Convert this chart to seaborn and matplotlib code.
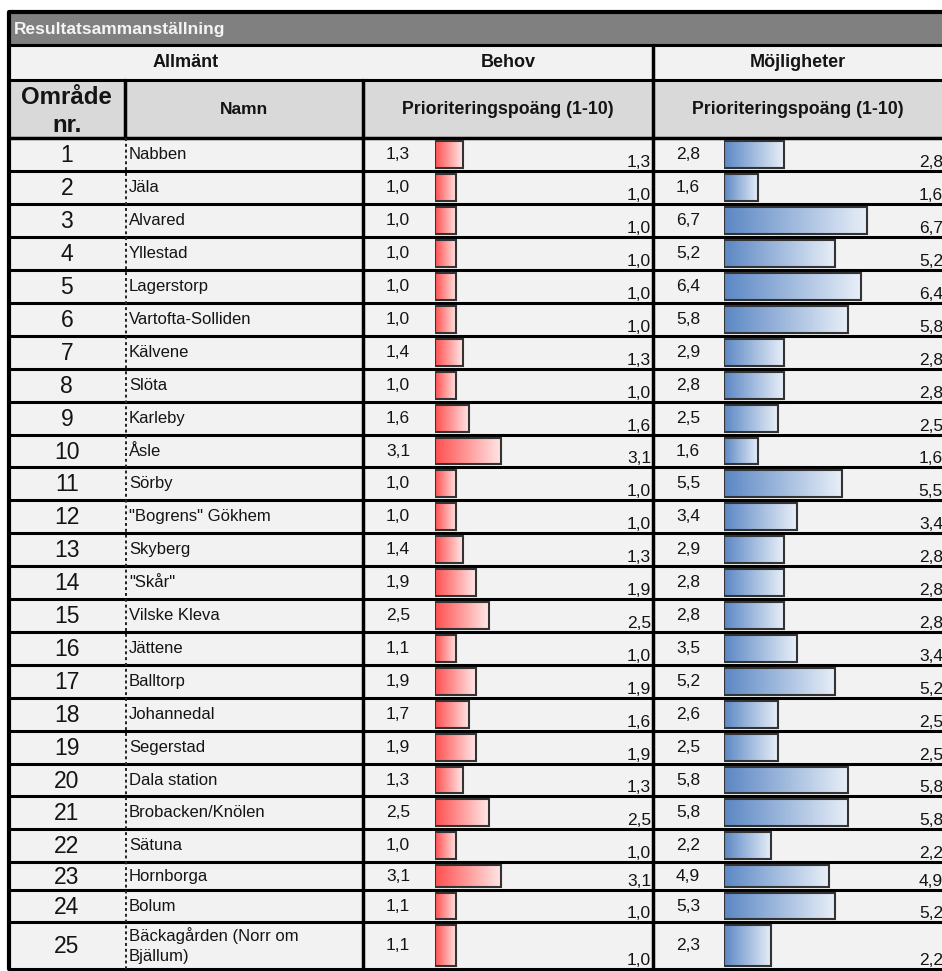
import matplotlib
matplotlib.use("Agg")
import matplotlib.pyplot as plt
import numpy as np
import seaborn as sns
from matplotlib.colors import LinearSegmentedColormap
from matplotlib.patches import Rectangle

# --- data -------------------------------------------------------------
area_nr = list(range(1, 26))
names = [
    "Nabben", "Jäla", "Alvared", "Yllestad", "Lagerstorp", "Vartofta-Solliden",
    "Kälvene", "Slöta", "Karleby", "Åsle", "Sörby", "\"Bogrens\" Gökhem",
    "Skyberg", "\"Skår\"", "Vilske Kleva", "Jättene", "Balltorp", "Johannedal",
    "Segerstad", "Dala station", "Brobacken/Knölen", "Sätuna", "Hornborga",
    "Bolum", "Bäckagården (Norr om\nBjällum)",
]
behov_score = [1.3, 1.0, 1.0, 1.0, 1.0, 1.0, 1.4, 1.0, 1.6, 3.1, 1.0, 1.0, 1.4,
               1.9, 2.5, 1.1, 1.9, 1.7, 1.9, 1.3, 2.5, 1.0, 3.1, 1.1, 1.1]
behov_bar = [1.3, 1.0, 1.0, 1.0, 1.0, 1.0, 1.3, 1.0, 1.6, 3.1, 1.0, 1.0, 1.3,
             1.9, 2.5, 1.0, 1.9, 1.6, 1.9, 1.3, 2.5, 1.0, 3.1, 1.0, 1.0]
mojl_score = [2.8, 1.6, 6.7, 5.2, 6.4, 5.8, 2.9, 2.8, 2.5, 1.6, 5.5, 3.4, 2.9,
              2.8, 2.8, 3.5, 5.2, 2.6, 2.5, 5.8, 5.8, 2.2, 4.9, 5.3, 2.3]
mojl_bar = [2.8, 1.6, 6.7, 5.2, 6.4, 5.8, 2.8, 2.8, 2.5, 1.6, 5.5, 3.4, 2.8,
            2.8, 2.8, 3.4, 5.2, 2.5, 2.5, 5.8, 5.8, 2.2, 4.9, 5.2, 2.2]

title = "Resultatsammanställning"
group_labels = ["Allmänt", "Behov", "Möjligheter"]
score_label = "Prioriteringspoäng (1-10)"


def fmt(v):
    return f"{v:.1f}".replace(".", ",")


# --- layout (pixels) ---------------------------------------------------
W, H = 942, 971
x_left, x_name, x_behov, x_mojl, x_right = 9, 124.5, 363, 653, 942
y_top, y_title, y_group, y_head = 12, 45, 80.5, 138.5
row_h = np.array([32.9] * 22 + [28, 31.5, 47])
edges = y_head + np.concatenate([[0], np.cumsum(row_h)])
tops, bottoms = edges[:-1], edges[1:]
centers = (tops + bottoms) / 2

sns.set_theme(style="white")
plt.rcParams["font.family"] = ["Liberation Sans", "DejaVu Sans"]
txt = "#141414"

fig = plt.figure(figsize=(W / 100, H / 100), dpi=100)
ax = fig.add_axes([0, 0, 1, 1])
ax.set_xlim(0, W)
ax.set_ylim(H, 0)
ax.axis("off")

# cell backgrounds
ax.add_patch(Rectangle((x_left, y_top), x_right - x_left, y_title - y_top, color="#808080", zorder=0))
ax.add_patch(Rectangle((x_left, y_title), x_right - x_left, y_group - y_title, color="#f2f2f2", zorder=0))
ax.add_patch(Rectangle((x_left, y_group), x_right - x_left, y_head - y_group, color="#d9d9d9", zorder=0))
ax.add_patch(Rectangle((x_left, y_head), x_right - x_left, edges[-1] - y_head, color="#f2f2f2", zorder=0))

# grid lines
for y, lw in [(y_top, 3), (y_title, 2.2), (y_group, 2.2), (y_head, 2.5)]:
    ax.plot([x_left, x_right], [y, y], color="black", lw=lw, solid_capstyle="butt", zorder=3)
for y in edges[1:]:
    ax.plot([x_left, x_right], [y, y], color="black", lw=2.2, solid_capstyle="butt", zorder=3)
ax.plot([x_left, x_left], [y_top, edges[-1]], color="black", lw=3, zorder=3)
ax.plot([x_mojl, x_mojl], [y_title, edges[-1]], color="black", lw=2.5, zorder=3)
ax.plot([x_behov, x_behov], [y_group, edges[-1]], color="black", lw=2.5, zorder=3)
ax.plot([x_name, x_name], [y_group, y_head], color="black", lw=2.5, zorder=3)
ax.plot([x_name + 1, x_name + 1], [y_head, edges[-1]], color="#222222", lw=1.4,
        linestyle=(0, (1.5, 1.5)), zorder=3)

# header texts
ax.text(14, (y_top + y_title) / 2 + 1, title, color="#f4f4f4", fontsize=12.5,
        fontweight="bold", ha="left", va="center")
ax.text((x_left + x_behov) / 2, (y_title + y_group) / 2, group_labels[0], fontsize=13,
        fontweight="bold", ha="center", va="center", color=txt)
ax.text((x_behov + x_mojl) / 2, (y_title + y_group) / 2, group_labels[1], fontsize=13,
        fontweight="bold", ha="center", va="center", color=txt)
ax.text((x_mojl + x_right) / 2, (y_title + y_group) / 2, group_labels[2], fontsize=13,
        fontweight="bold", ha="center", va="center", color=txt)
ax.text((x_left + x_name) / 2, 97, "Område", fontsize=17.3, fontweight="bold",
        ha="center", va="center", color=txt)
ax.text((x_left + x_name) / 2, 126, "nr.", fontsize=17.3, fontweight="bold",
        ha="center", va="center", color=txt)
ax.text((x_name + x_behov) / 2, 110, "Namn", fontsize=12.5, fontweight="bold",
        ha="center", va="center", color=txt)
ax.text((x_behov + x_mojl) / 2, 110, score_label, fontsize=12.8, fontweight="bold",
        ha="center", va="center", color=txt)
ax.text((x_mojl + x_right) / 2, 110, score_label, fontsize=12.8, fontweight="bold",
        ha="center", va="center", color=txt)

# row texts
for i in range(len(area_nr)):
    c, b = centers[i], bottoms[i]
    ax.text((x_left + x_name) / 2, c + 1, str(area_nr[i]), fontsize=16.5, ha="center",
            va="center", color=txt)
    ax.text(x_name + 4.5, c, names[i], fontsize=12, ha="left", va="center",
            color=txt, linespacing=1.4)
    ax.text(386, c, fmt(behov_score[i]), fontsize=12.5, ha="left", va="center", color=txt)
    ax.text(x_mojl - 2, b - 4, fmt(behov_bar[i]), fontsize=12.5, ha="right",
            va="baseline", color=txt)
    ax.text(676, c, fmt(mojl_score[i]), fontsize=12.5, ha="left", va="center", color=txt)
    ax.text(x_right + 1, b - 4, fmt(mojl_bar[i]), fontsize=12.5, ha="right",
            va="baseline", color=txt, clip_on=True)


# data bars with gradient fill
def bar_column(x0, values, c_from, c_to):
    scale = 21.4  # pixels per score unit
    bax = fig.add_axes([x0 / W, 0, 10 * scale / W, 1])
    bax.set_xlim(0, 10)
    bax.set_ylim(H, 0)
    bax.axis("off")
    bax.patch.set_alpha(0)
    cmap = LinearSegmentedColormap.from_list("grad", [c_from, c_to])
    grad = np.linspace(0, 1, 256).reshape(1, -1)
    bars = bax.barh(centers, values, height=row_h - 6, left=0, facecolor="none",
                    edgecolor="#333333", linewidth=1.5, zorder=3)
    for patch, v, t, b in zip(bars.patches, values, tops, bottoms):
        im = bax.imshow(grad, cmap=cmap, extent=(0, v, b - 3, t + 3), aspect="auto",
                        zorder=2, interpolation="bilinear")
        im.set_clip_path(patch)
    bax.set_xlim(0, 10)
    bax.set_ylim(H, 0)


bar_column(435, behov_bar, "#ff4f4f", "#ffe8e8")
bar_column(724, mojl_bar, "#5b87c4", "#e8eff8")

fig.savefig("out.png", dpi=100, facecolor="white")
